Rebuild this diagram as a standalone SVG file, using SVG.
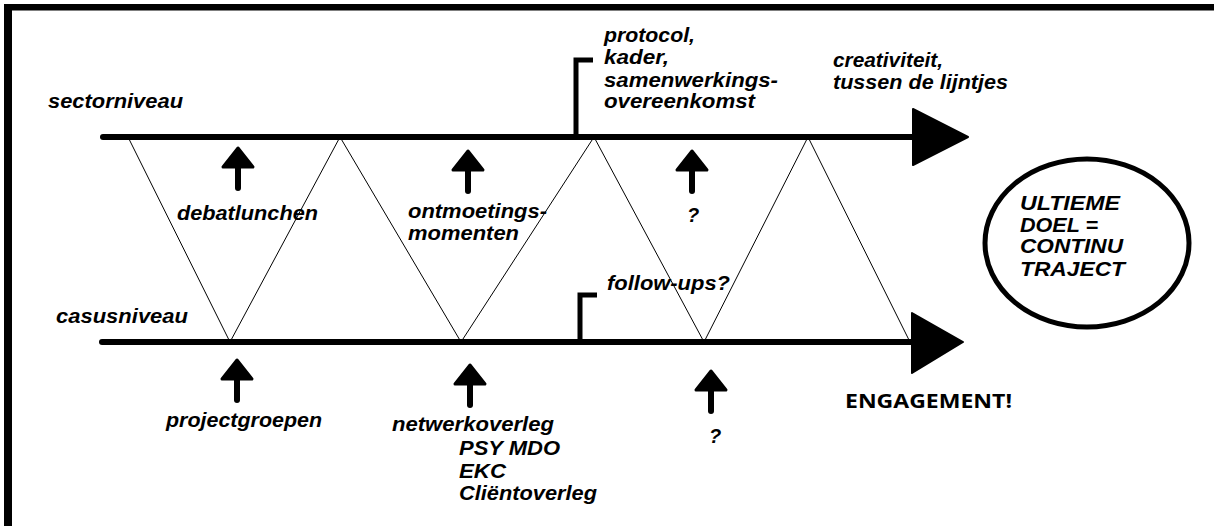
<svg xmlns="http://www.w3.org/2000/svg" width="1214" height="526" viewBox="0 0 1214 526">
<style>
.t{font-family:"Liberation Sans",Arial,sans-serif;font-weight:bold;font-style:italic;font-size:20px;fill:#000}
.e{font-family:"Open Sans","Liberation Sans",sans-serif;font-weight:bold;font-size:20px;fill:#000}
.main{stroke:#000;stroke-width:6;stroke-linecap:round;fill:none}
.thin{stroke:#000;stroke-width:1;fill:none}
.br{stroke:#000;stroke-width:5;fill:none}
</style>
<defs>
<g id="up">
<line x1="0" y1="10" x2="0" y2="40" stroke="#000" stroke-width="6" stroke-linecap="round"/>
<polygon points="0,0 15,19 -15,19" fill="#000" stroke="#000" stroke-width="3" stroke-linejoin="round"/>
</g>
</defs>
<rect width="1214" height="526" fill="#fff"/>
<g id="frame">
<rect x="4" y="4" width="1210" height="6.5" fill="#000"/>
<rect x="4" y="4" width="8" height="522" fill="#000"/>
</g>
<g id="connectors">
<line class="main" x1="103" y1="137" x2="915" y2="137"/>
<polygon points="913,109 968,137 913,165" fill="#000" stroke="#000" stroke-width="2" stroke-linejoin="round"/>
<line class="main" x1="102" y1="342" x2="914" y2="342"/>
<polygon points="912,313 963,342 912,373" fill="#000" stroke="#000" stroke-width="2" stroke-linejoin="round"/>
<polyline class="thin" points="128,137 230,342 340,137 461,342 594,137 704,342 808,137 910,342"/>
<polyline class="br" points="593,60 576,60 576,137"/>
<polyline class="br" points="597,295 580,295 580,342"/>
<use href="#up" x="238" y="148"/>
<use href="#up" x="468" y="151"/>
<use href="#up" x="692" y="151"/>
<use href="#up" x="237" y="360"/>
<use href="#up" x="470" y="365"/>
<use href="#up" x="711" y="371"/>
</g>
<g id="sectorniveau"><text class="t" x="48" y="108" textLength="135" lengthAdjust="spacingAndGlyphs">sectorniveau</text></g>
<g id="casusniveau"><text class="t" x="56" y="323" textLength="132" lengthAdjust="spacingAndGlyphs">casusniveau</text></g>
<g id="debatlunchen"><text class="t" x="177" y="220" textLength="141" lengthAdjust="spacingAndGlyphs">debatlunchen</text></g>
<g id="ontmoetingsmomenten">
<text class="t" x="408" y="218" textLength="139" lengthAdjust="spacingAndGlyphs">ontmoetings-</text>
<text class="t" x="408" y="240" textLength="111" lengthAdjust="spacingAndGlyphs">momenten</text>
</g>
<g id="vraag-sector"><text class="t" x="687" y="222">?</text></g>
<g id="followups"><text class="t" x="607" y="290" textLength="123" lengthAdjust="spacingAndGlyphs">follow-ups?</text></g>
<g id="protocol">
<text class="t" x="604" y="42" textLength="91" lengthAdjust="spacingAndGlyphs">protocol,</text>
<text class="t" x="604" y="64" textLength="65" lengthAdjust="spacingAndGlyphs">kader,</text>
<text class="t" x="604" y="87" textLength="174" lengthAdjust="spacingAndGlyphs">samenwerkings-</text>
<text class="t" x="604" y="108" textLength="151" lengthAdjust="spacingAndGlyphs">overeenkomst</text>
</g>
<g id="creativiteit">
<text class="t" x="833" y="67" textLength="110" lengthAdjust="spacingAndGlyphs">creativiteit,</text>
<text class="t" x="833" y="89" textLength="175" lengthAdjust="spacingAndGlyphs">tussen de lijntjes</text>
</g>
<g id="doel">
<ellipse cx="1087" cy="243" rx="102" ry="84" fill="none" stroke="#000" stroke-width="5"/>
<text class="t" x="1020" y="210" textLength="100" lengthAdjust="spacingAndGlyphs">ULTIEME</text>
<text class="t" x="1020" y="232" textLength="78" lengthAdjust="spacingAndGlyphs">DOEL =</text>
<text class="t" x="1020" y="253" textLength="103" lengthAdjust="spacingAndGlyphs">CONTINU</text>
<text class="t" x="1020" y="276" textLength="105" lengthAdjust="spacingAndGlyphs">TRAJECT</text>
</g>
<g id="projectgroepen"><text class="t" x="166" y="427" textLength="156" lengthAdjust="spacingAndGlyphs">projectgroepen</text></g>
<g id="netwerkoverleg">
<text class="t" x="392" y="431" textLength="162" lengthAdjust="spacingAndGlyphs">netwerkoverleg</text>
<text class="t" x="459" y="455" textLength="101" lengthAdjust="spacingAndGlyphs">PSY MDO</text>
<text class="t" x="459" y="478" textLength="47" lengthAdjust="spacingAndGlyphs">EKC</text>
<text class="t" x="459" y="500" textLength="138" lengthAdjust="spacingAndGlyphs">Cliëntoverleg</text>
</g>
<g id="vraag-casus"><text class="t" x="709" y="443">?</text></g>
<g id="engagement"><text class="e" x="845" y="408" textLength="167" lengthAdjust="spacingAndGlyphs">ENGAGEMENT!</text></g>
</svg>
